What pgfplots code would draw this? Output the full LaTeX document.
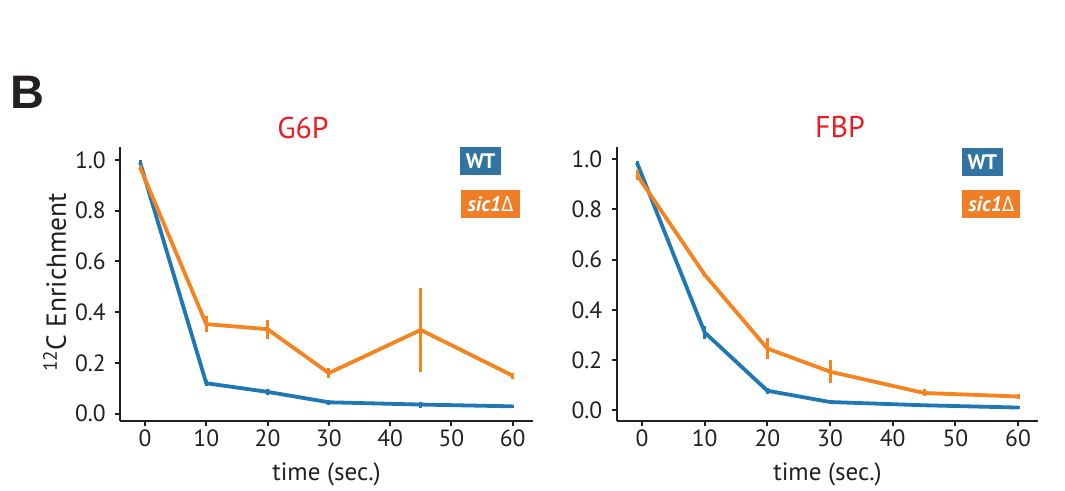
\documentclass[border=0pt]{standalone}
\usepackage{fontspec}
\setmainfont{PT Sans}
\newfontfamily\greekfont{Open Sans}
\newfontfamily\boldsans{Liberation Sans}
\usepackage{pgfplots}
\usepackage{pgfplotstable}
\pgfplotsset{compat=1.18}

\definecolor{axisgray}{HTML}{231F20}
\definecolor{wtline}{HTML}{1F77B4}
\definecolor{mutline}{HTML}{F5831F}
\definecolor{wtbox}{HTML}{3274A1}
\definecolor{mutbox}{HTML}{F07E26}
\definecolor{titlered}{HTML}{ED1C24}

% columns: time (s), enrichment, standard error
\pgfplotstableread{
x y e
-0.8 0.990 0.010
10 0.120 0.012
20 0.086 0.012
30 0.045 0.010
45 0.036 0.012
60 0.029 0.006
}\gsixpwt
\pgfplotstableread{
x y e
-0.8 0.970 0.010
10 0.353 0.033
20 0.333 0.038
30 0.160 0.020
45 0.330 0.165
60 0.150 0.012
}\gsixpmut
\pgfplotstableread{
x y e
-0.8 0.986 0.008
10 0.310 0.025
20 0.078 0.012
30 0.033 0.006
45 0.020 0.005
60 0.011 0.005
}\fbpwt
\pgfplotstableread{
x y e
-0.8 0.937 0.020
10 0.540 0.008
20 0.246 0.042
30 0.154 0.045
45 0.069 0.014
60 0.055 0.010
}\fbpmut

\newcommand{\labelfont}{\fontsize{25}{28}\selectfont}
\newcommand{\tickfont}{\fontsize{23.5}{26}\selectfont}

\pgfplotsset{
  panel/.style={
    scale only axis,
    height=274pt,
    axis x line*=bottom, axis y line*=left,
    axis line style={-, line width=2.2pt, color=axisgray},
    xtick={0,10,...,60},
    ytick={0,0.2,0.4,0.6,0.8,1.0},
    tick align=outside,
    major tick length=5pt,
    every tick/.style={line width=2pt, color=axisgray},
    /pgf/number format/assume math mode=true,
    yticklabel={\pgfmathprintnumber[fixed,fixed zerofill,precision=1]{\tick}},
    ticklabel style={font=\tickfont, text=axisgray},
    xticklabel style={yshift=-1pt},
    yticklabel style={xshift=-6pt},
    xlabel={time (sec.)},
    xlabel style={font=\labelfont, text=axisgray, at={(axis description cs:0.5,-0.218)}, anchor=base},
    clip=false,
  },
  series/.style={
    line width=3.8pt, #1, no markers, line join=round,
    error bars/.cd, y dir=both, y explicit,
    error bar style={line width=3pt, #1}, error mark=none,
  },
}

\begin{document}
\begin{tikzpicture}
\useasboundingbox (0pt,0pt) rectangle (1065pt,490pt);

% panel label
\node[anchor=base west, inner sep=0pt, text=axisgray] at (10pt,381pt)
  {\boldsans\bfseries\fontsize{47}{50}\selectfont B};

% left panel: G6P
\begin{axis}[panel,
  at={(120.3pt,69.3pt)}, anchor=south west,
  width=412.4pt,
  xmin=-4.03, xmax=63.27, ymin=-0.0276, ymax=1.052,
  ylabel={\textsuperscript{12}C Enrichment},
  ylabel style={font=\fontsize{27.5}{30}\selectfont, text=axisgray, at={(axis description cs:-0.132,0.505)}, anchor=base},
]
\addplot[series=wtline] table[x=x, y=y, y error=e] {\gsixpwt};
\addplot[series=mutline] table[x=x, y=y, y error=e] {\gsixpmut};
\end{axis}

% right panel: FBP
\begin{axis}[panel,
  at={(616.7pt,69.3pt)}, anchor=south west,
  width=421.6pt,
  xmin=-4.04, xmax=63.24, ymin=-0.0414, ymax=1.050,
]
\addplot[series=wtline] table[x=x, y=y, y error=e] {\fbpwt};
\addplot[series=mutline] table[x=x, y=y, y error=e] {\fbpmut};
\end{axis}

% titles
\node[text=titlered, font=\fontsize{30}{33}\selectfont] at (303pt,362pt) {G6P};
\node[text=titlered, font=\fontsize{30}{33}\selectfont] at (840pt,363pt) {FBP};

% strain keys
\tikzset{key/.style={inner sep=0pt, minimum height=28pt, text=white, font=\bfseries\fontsize{21}{23}\selectfont}}
\node[key, fill=wtbox, minimum width=41pt] at (480.5pt,328.5pt) {WT};
\node[key, fill=mutbox, minimum width=59pt] at (490.5pt,286pt) {\textit{sic1}{\mdseries\greekfont Δ}};
\node[key, fill=wtbox, minimum width=41pt] at (982.2pt,328pt) {WT};
\node[key, fill=mutbox, minimum width=58pt] at (991.2pt,286.3pt) {\textit{sic1}{\mdseries\greekfont Δ}};
\end{tikzpicture}
\end{document}
